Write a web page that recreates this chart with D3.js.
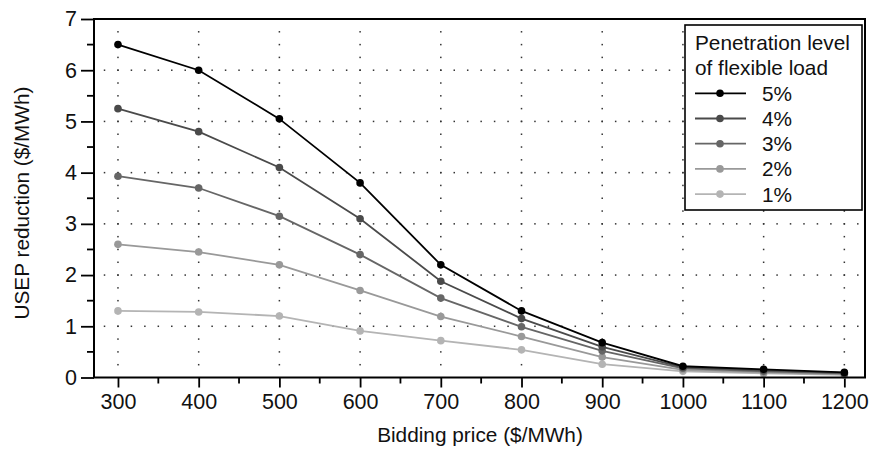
<!DOCTYPE html>
<html>
<head>
<meta charset="utf-8">
<script src="https://cdn.jsdelivr.net/npm/d3@7"></script>
<style>
  html, body { margin: 0; padding: 0; background: #fff; }
  svg { display: block; font-family: "Liberation Sans", Arial, Helvetica, sans-serif; }
</style>
</head>
<body>
<svg id="chart" width="869" height="450"></svg>
<script>
// ---------- data ----------
const prices = [300, 400, 500, 600, 700, 800, 900, 1000, 1100, 1200];
const seriesNames = ["5%", "4%", "3%", "2%", "1%"];
const s5 = [6.50, 6.00, 5.05, 3.80, 2.20, 1.30, 0.68, 0.22, 0.16, 0.10];
const s4 = [5.25, 4.80, 4.10, 3.10, 1.88, 1.15, 0.60, 0.20, 0.14, 0.09];
const s3 = [3.93, 3.70, 3.15, 2.40, 1.55, 0.99, 0.52, 0.18, 0.12, 0.08];
const s2 = [2.60, 2.45, 2.20, 1.70, 1.19, 0.80, 0.40, 0.15, 0.10, 0.06];
const s1 = [1.30, 1.28, 1.20, 0.91, 0.72, 0.54, 0.26, 0.12, 0.08, 0.05];
const xTicks = [300, 400, 500, 600, 700, 800, 900, 1000, 1100, 1200];
const yTicks = [0, 1, 2, 3, 4, 5, 6, 7];
const legendTitle = ["Penetration level", "of flexible load"];
const xTitle = "Bidding price ($/MWh)";
const yTitle = "USEP reduction ($/MWh)";

const seriesValues = [s5, s4, s3, s2, s1];
const colors = ["#000000", "#4a4a4a", "#666666", "#999999", "#b4b4b4"];

// ---------- layout ----------
const svg = d3.select("#chart");
const pL = 94, pR = 865, pT = 19, pB = 377.5;
const x = d3.scaleLinear().domain([270.3, 1225.6]).range([pL, pR]);
const y = d3.scaleLinear().domain([0, 7]).range([pB, pT]);
const FS = 20.8;
const TFS = 21.5;

// dotted grid
const grid = svg.append("g").attr("fill", "#333");
xTicks.forEach(t => {
  for (let k = 1; k < 28; k++) {
    grid.append("rect").attr("x", x(t) - 0.75).attr("y", y(k * 0.25) - 0.75)
      .attr("width", 1.5).attr("height", 1.5);
  }
});
[1, 2, 3, 4, 5, 6].forEach(v => {
  for (let k = -1; k <= 55; k++) {
    const xv = 300 + k * 100 / 6;
    if (x(xv) <= pL + 3 || x(xv) >= pR - 3) continue;
    grid.append("rect").attr("x", x(xv) - 0.75).attr("y", y(v) - 0.75)
      .attr("width", 1.5).attr("height", 1.5);
  }
});

// axes
const xAxis = d3.axisBottom(x).tickValues(xTicks).tickSize(10).tickPadding(6).tickFormat(d3.format("d"));
const gx = svg.append("g").attr("transform", `translate(0,${pB})`).call(xAxis);
gx.select(".domain").remove();
gx.selectAll(".tick line").attr("stroke", "#000").attr("stroke-width", 1.8);
gx.selectAll(".tick text").attr("font-size", TFS).attr("fill", "#111")
  .attr("font-family", "Liberation Sans, Arial, sans-serif").attr("dy", "0.71em");
const xMinor = xTicks.slice(0, -1).map(t => t + 50);
svg.append("g").selectAll("line").data(xMinor).join("line")
  .attr("x1", d => x(d)).attr("x2", d => x(d))
  .attr("y1", pB).attr("y2", pB + 6)
  .attr("stroke", "#000").attr("stroke-width", 1.8);

const yAxis = d3.axisLeft(y).tickValues(yTicks).tickSize(13).tickPadding(4).tickFormat(d3.format("d"));
const gy = svg.append("g").attr("transform", `translate(${pL},0)`).call(yAxis);
gy.select(".domain").remove();
gy.selectAll(".tick line").attr("stroke", "#000").attr("stroke-width", 1.8);
gy.selectAll(".tick text").attr("font-size", TFS).attr("fill", "#111")
  .attr("font-family", "Liberation Sans, Arial, sans-serif");
const yMinor = yTicks.slice(0, -1).map(t => t + 0.5);
svg.append("g").selectAll("line").data(yMinor).join("line")
  .attr("x1", pL - 7).attr("x2", pL)
  .attr("y1", d => y(d)).attr("y2", d => y(d))
  .attr("stroke", "#000").attr("stroke-width", 1.8);

// series (draw lightest first)
const line = d3.line().x((d, i) => x(prices[i])).y(d => y(d));
for (let si = seriesValues.length - 1; si >= 0; si--) {
  const g = svg.append("g");
  g.append("path").datum(seriesValues[si]).attr("d", line)
    .attr("fill", "none").attr("stroke", colors[si]).attr("stroke-width", 1.8);
  g.selectAll("circle").data(seriesValues[si]).join("circle")
    .attr("cx", (d, i) => x(prices[i])).attr("cy", d => y(d)).attr("r", 3.8)
    .attr("fill", colors[si]);
}

// frame
svg.append("rect").attr("x", pL).attr("y", pT)
  .attr("width", pR - pL).attr("height", pB - pT)
  .attr("fill", "none").attr("stroke", "#000").attr("stroke-width", 2);

// axis titles
svg.append("text").attr("x", 480).attr("y", 442).attr("text-anchor", "middle")
  .attr("font-size", FS).attr("fill", "#111").text(xTitle);
svg.append("text").attr("transform", "translate(29,203) rotate(-90)")
  .attr("text-anchor", "middle").attr("font-size", FS).attr("fill", "#111").text(yTitle);

// legend
const lg = svg.append("g");
lg.append("rect").attr("x", 685).attr("y", 25).attr("width", 177).attr("height", 185)
  .attr("fill", "#fff").attr("stroke", "#000").attr("stroke-width", 1.6);
legendTitle.forEach((t, i) => {
  lg.append("text").attr("x", 695).attr("y", 50 + i * 25)
    .attr("font-size", FS).attr("fill", "#111").text(t);
});
seriesNames.forEach((n, i) => {
  const yy = 93.3 + i * 25.2;
  lg.append("line").attr("x1", 695).attr("x2", 746).attr("y1", yy).attr("y2", yy)
    .attr("stroke", colors[i]).attr("stroke-width", 1.8);
  lg.append("circle").attr("cx", 720).attr("cy", yy).attr("r", 3.8).attr("fill", colors[i]);
  lg.append("text").attr("x", 762).attr("y", yy).attr("dy", "0.36em")
    .attr("font-size", FS).attr("fill", "#111").text(n);
});
</script>
</body>
</html>
